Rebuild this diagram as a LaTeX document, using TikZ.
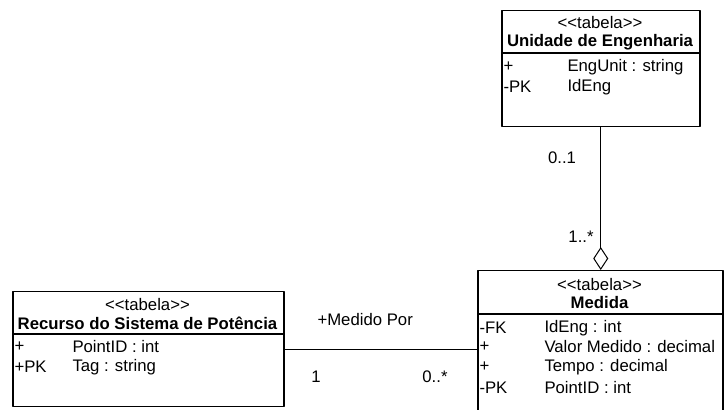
\documentclass[tikz,border=0pt]{standalone}
\usepackage{fontspec}
\setmainfont{Liberation Sans}
\usetikzlibrary{arrows.meta}

\newcommand{\estereotipo}[1]{<\kern0pt<#1>\kern0pt>}

\tikzset{
  tabela/.style={draw, rectangle, line width=1.5bp, anchor=north west, inner sep=0pt},
  divisor/.style={line width=2bp},
  rotulo/.style={inner sep=0pt, font=\fontsize{16.8}{20}\selectfont},
  atrib/.style={rotulo, anchor=west},
}

\begin{document}
\begin{tikzpicture}[>=latex,line join=bevel,]
  \pgfsetlinewidth{1bp}
  \useasboundingbox (0bp,0bp) rectangle (724bp,410bp);
  \clip (0bp,0bp) rectangle (724bp,410bp);
%%
  % Node: unidade
\begin{scope}
  \node [tabela, minimum width=198bp, minimum height=116bp] (unidade) at (501bp,400bp) {};
  \draw [divisor] (501bp,357bp) -- (699bp,357bp);
  \node [rotulo] (unidade-est) at (600bp,387bp) {\estereotipo{tabela}};
  \node [rotulo, font=\fontsize{16.8}{20}\selectfont\bfseries] (unidade-nome) at (600bp,368bp) {Unidade de Engenharia};
  \node [atrib] (unidade-v1) at (503bp,343bp) {+};
  \node [atrib] (unidade-a1) at (567bp,343bp) {EngUnit : string};
  \node [atrib] (unidade-v2) at (503bp,323bp) {-PK};
  \node [atrib] (unidade-a2) at (567bp,323bp) {IdEng};
\end{scope}
  % Node: recurso
\begin{scope}
  \node [tabela, minimum width=271bp, minimum height=115bp] (recurso) at (12bp,119bp) {};
  \draw [divisor] (12bp,76bp) -- (283bp,76bp);
  \node [rotulo] (recurso-est) at (147.5bp,105bp) {\estereotipo{tabela}};
  \node [rotulo, font=\fontsize{16.8}{20}\selectfont\bfseries] (recurso-nome) at (147.5bp,87bp) {Recurso do Sistema de Potência};
  \node [atrib] (recurso-v1) at (14bp,63bp) {+};
  \node [atrib] (recurso-a1) at (72bp,63bp) {PointID : int};
  \node [atrib] (recurso-v2) at (14bp,43bp) {+PK};
  \node [atrib] (recurso-a2) at (72bp,43bp) {Tag : string};
\end{scope}
  % Node: medida
\begin{scope}
  \node [tabela, minimum width=245bp, minimum height=160bp] (medida) at (477bp,140bp) {};
  \draw [divisor] (477bp,96bp) -- (722bp,96bp);
  \node [rotulo] (medida-est) at (599.5bp,125bp) {\estereotipo{tabela}};
  \node [rotulo, font=\fontsize{16.8}{20}\selectfont\bfseries] (medida-nome) at (599.5bp,107bp) {Medida};
  \node [atrib] (medida-v1) at (479bp,82bp) {-FK};
  \node [atrib] (medida-a1) at (544bp,82bp) {IdEng : int};
  \node [atrib] (medida-v2) at (479bp,63bp) {+};
  \node [atrib] (medida-a2) at (544bp,63bp) {Valor Medido : decimal};
  \node [atrib] (medida-v3) at (479bp,43bp) {+};
  \node [atrib] (medida-a3) at (544bp,43bp) {Tempo : decimal};
  \node [atrib] (medida-v4) at (479bp,22bp) {-PK};
  \node [atrib] (medida-a4) at (544bp,22bp) {PointID : int};
\end{scope}
  % Edge: unidade -> medida
  \draw [-{Diamond[open,length=23bp,width=15bp]}] (unidade.south) -- (unidade.south |- medida.north);
  \node [rotulo] (mult-01) at (562bp,252bp) {0..1};
  \node [rotulo] (mult-1n) at (581bp,173bp) {1..*};
  % Edge: recurso -> medida
  \draw (recurso.east) -- (recurso.east -| medida.west);
  \node [rotulo, anchor=west] (papel) at (317bp,90bp) {+Medido Por};
  \node [rotulo] (mult-1) at (316bp,33bp) {1};
  \node [rotulo] (mult-0n) at (435bp,33bp) {0..*};
%
\end{tikzpicture}
\end{document}
